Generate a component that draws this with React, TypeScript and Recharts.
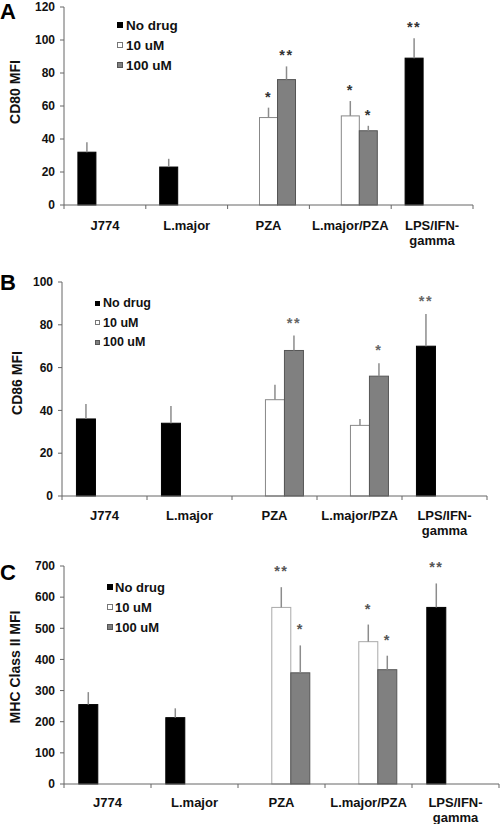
import React from 'react';
import { BarChart, Bar, XAxis, YAxis, Legend, ErrorBar, Label } from 'recharts';

const FONT = '"Liberation Sans", Arial, Helvetica, sans-serif';

type Num = number | null;

const categories = ['J774', 'L.major', 'PZA', 'L.major/PZA', 'LPS/IFN-gamma'];
const seriesNames = ['No drug', '10 uM', '100 uM'];
const KEYS = ['none', 'ten', 'hundred'];
const FILLS = ['#000000', '#ffffff', '#808080'];

// A - CD80
const cd80NoDrug: Num[] = [32, 23, null, null, 89];
const cd80NoDrugErr: Num[] = [6, 5, null, null, 12];
const cd80Ten: Num[] = [null, null, 53, 54, null];
const cd80TenErr: Num[] = [null, null, 6, 9, null];
const cd80Hundred: Num[] = [null, null, 76, 45, null];
const cd80HundredErr: Num[] = [null, null, 8, 3, null];
const cd80NoDrugStars = ['', '', '', '', '**'];
const cd80TenStars = ['', '', '*', '*', ''];
const cd80HundredStars = ['', '', '**', '*', ''];
const cd80Ticks = [0, 20, 40, 60, 80, 100, 120];

// B - CD86
const cd86NoDrug: Num[] = [36, 34, null, null, 70];
const cd86NoDrugErr: Num[] = [7, 8, null, null, 15];
const cd86Ten: Num[] = [null, null, 45, 33, null];
const cd86TenErr: Num[] = [null, null, 7, 3, null];
const cd86Hundred: Num[] = [null, null, 68, 56, null];
const cd86HundredErr: Num[] = [null, null, 7, 6, null];
const cd86NoDrugStars = ['', '', '', '', '**'];
const cd86TenStars = ['', '', '', '', ''];
const cd86HundredStars = ['', '', '**', '*', ''];
const cd86Ticks = [0, 20, 40, 60, 80, 100];

// C - MHC class II
const mhcNoDrug: Num[] = [255, 213, null, null, 567];
const mhcNoDrugErr: Num[] = [40, 30, null, null, 77];
const mhcTen: Num[] = [null, null, 567, 457, null];
const mhcTenErr: Num[] = [null, null, 65, 55, null];
const mhcHundred: Num[] = [null, null, 357, 367, null];
const mhcHundredErr: Num[] = [null, null, 88, 45, null];
const mhcNoDrugStars = ['', '', '', '', '**'];
const mhcTenStars = ['', '', '**', '*', ''];
const mhcHundredStars = ['', '', '*', '*', ''];
const mhcTicks = [0, 100, 200, 300, 400, 500, 600, 700];

const buildRows = (vals: Num[][], errs: Num[][], stars: string[][]) =>
  categories.map((name, i) => {
    const row: any = { name };
    KEYS.forEach((k, s) => {
      const e = errs[s][i];
      row[k] = vals[s][i];
      row[k + 'Err'] = e == null ? null : [0, e];
      row[k + 'Star'] = stars[s][i];
    });
    return row;
  });

const cd80Rows = buildRows(
  [cd80NoDrug, cd80Ten, cd80Hundred],
  [cd80NoDrugErr, cd80TenErr, cd80HundredErr],
  [cd80NoDrugStars, cd80TenStars, cd80HundredStars]
);
const cd86Rows = buildRows(
  [cd86NoDrug, cd86Ten, cd86Hundred],
  [cd86NoDrugErr, cd86TenErr, cd86HundredErr],
  [cd86NoDrugStars, cd86TenStars, cd86HundredStars]
);
const mhcRows = buildRows(
  [mhcNoDrug, mhcTen, mhcHundred],
  [mhcNoDrugErr, mhcTenErr, mhcHundredErr],
  [mhcNoDrugStars, mhcTenStars, mhcHundredStars]
);

// bar with its significance stars sitting above the error bar
const makeShape = (key: string, starColor: string, starLift: number) => (p: any) => {
  const row = p.payload;
  const v = row ? row[key] : null;
  if (v == null || !p.height) return <g />;
  const err = row[key + 'Err'];
  const star = row[key + 'Star'];
  const unit = p.height / v;
  const top = p.y - (err ? err[1] : 0) * unit;
  return (
    <g>
      <rect x={p.x} y={p.y} width={p.width} height={p.height} fill={p.fill} stroke={p.stroke} strokeWidth={1} />
      {star ? (
        <text x={p.x + p.width / 2} y={top - starLift} textAnchor="middle" fontFamily={FONT} fontWeight="bold" fontSize={14.5} letterSpacing={1.5} fill={starColor}>
          {star}
        </text>
      ) : null}
    </g>
  );
};

const CatTick = (p: any) => {
  const { x, y, payload, index, half, base, gap } = p;
  const lines = String(payload.value).replace('-', '-\n').split('\n');
  return (
    <g>
      <line x1={x - half} x2={x - half} y1={y} y2={y + 4} stroke="#666" />
      {index === categories.length - 1 && <line x1={x + half} x2={x + half} y1={y} y2={y + 4} stroke="#666" />}
      <text x={x} y={y + base} textAnchor="middle" fontFamily={FONT} fontWeight="bold" fontSize={13} fill="#111">
        {lines.map((l, i) => (
          <tspan key={i} x={x} dy={i ? gap : 0}>
            {l}
          </tspan>
        ))}
      </text>
    </g>
  );
};

const LegendBox = ({ font, row, square, gap }: any) => (
  <div style={{ fontFamily: FONT, fontWeight: 'bold', fontSize: font, color: '#111' }}>
    {seriesNames.map((n, i) => (
      <div key={n} style={{ display: 'flex', alignItems: 'center', height: row, whiteSpace: 'nowrap' }}>
        <span
          style={{
            display: 'inline-block',
            width: square,
            height: square,
            background: FILLS[i],
            border: `1px solid ${i === 1 ? '#777' : i === 2 ? '#555' : '#000'}`,
            boxSizing: 'border-box',
            marginRight: gap,
          }}
        />
        {n}
      </div>
    ))}
  </div>
);

const Panel = (props: any) => {
  const { letter, letterTop, title, titleX, titleDy, rows, ticks, top, height, axisWidth, right, plotTop, xAxisHeight, legend, labelBase, labelGap, starColor, starLift, tenStroke } = props;
  const band = (500 - axisWidth - right) / categories.length;
  const strokes = ['#000000', tenStroke, '#555555'];
  return (
    <div style={{ position: 'absolute', left: 0, top, width: 500, height }}>
      <BarChart width={500} height={height} data={rows} margin={{ top: plotTop, right, left: 0, bottom: 0 }} barCategoryGap="17%" barGap={0}>
        <XAxis
          dataKey="name"
          height={xAxisHeight}
          interval={0}
          tickLine={false}
          tickSize={0}
          tickMargin={0}
          stroke="#666"
          tick={(p: any) => <CatTick {...p} half={band / 2} base={labelBase} gap={labelGap} />}
        />
        <YAxis
          width={axisWidth}
          domain={[0, ticks[ticks.length - 1]]}
          ticks={ticks}
          interval={0}
          tickSize={4}
          tickMargin={5}
          stroke="#666"
          tick={{ fill: '#111', fontSize: 12, fontWeight: 'bold', fontFamily: FONT }}
        >
          <Label
            content={(lp: any) => {
              const vb = lp.viewBox || { x: 0, y: plotTop, height: 200 };
              const cx = (vb.x || 0) + titleX;
              const cy = vb.y + vb.height / 2 + titleDy;
              return (
                <text x={cx} y={cy} transform={`rotate(-90 ${cx} ${cy})`} textAnchor="middle" dominantBaseline="central" fontFamily={FONT} fontWeight="bold" fontSize={14} fill="#111">
                  {title}
                </text>
              );
            }}
          />
        </YAxis>
        <Legend
          layout="vertical"
          align="center"
          verticalAlign="middle"
          wrapperStyle={{ left: legend.left, top: legend.top, width: 'auto', height: 'auto' }}
          content={() => <LegendBox font={legend.font} row={legend.row} square={legend.square} gap={legend.gap} />}
        />
        {KEYS.map((k, i) => (
          <Bar key={k} dataKey={k} name={seriesNames[i]} fill={FILLS[i]} stroke={strokes[i]} isAnimationActive={false} shape={makeShape(k, starColor, starLift)}>
            <ErrorBar dataKey={k + 'Err'} width={0} stroke="#8c8c8c" strokeWidth={1.5} direction="y" />
          </Bar>
        ))}
      </BarChart>
      <div style={{ position: 'absolute', left: 0, top: letterTop, fontFamily: FONT, fontWeight: 'bold', fontSize: 22, lineHeight: 1, color: '#000' }}>
        {letter}
      </div>
    </div>
  );
};

export default function App() {
  return (
    <div style={{ position: 'absolute', left: 0, top: 0, width: 500, height: 825, background: '#fff', overflow: 'hidden' }}>
      <Panel
        letter="A"
        letterTop={1}
        title="CD80 MFI"
        titleX={15}
        titleDy={-14}
        rows={cd80Rows}
        ticks={cd80Ticks}
        top={0}
        height={250}
        axisWidth={64}
        right={27}
        plotTop={7}
        xAxisHeight={45}
        legend={{ left: 117, top: 15, font: 13.5, row: 20, square: 6, gap: 3 }}
        labelBase={24.5}
        labelGap={15.5}
        starColor="#333"
        starLift={6}
        tenStroke="#888"
      />
      <Panel
        letter="B"
        letterTop={2}
        title="CD86 MFI"
        titleX={16.5}
        titleDy={-6}
        rows={cd86Rows}
        ticks={cd86Ticks}
        top={270}
        height={272}
        axisWidth={62}
        right={13}
        plotTop={12}
        xAxisHeight={46}
        legend={{ left: 95, top: 23.5, font: 12.5, row: 19.5, square: 5, gap: 3 }}
        labelBase={23.5}
        labelGap={15.5}
        starColor="#666"
        starLift={8}
        tenStroke="#888"
      />
      <Panel
        letter="C"
        letterTop={12}
        title="MHC Class II MFI"
        titleX={15}
        titleDy={-8}
        rows={mhcRows}
        ticks={mhcTicks}
        top={550}
        height={274}
        axisWidth={64}
        right={1}
        plotTop={16}
        xAxisHeight={40}
        legend={{ left: 107, top: 27, font: 13, row: 20, square: 6, gap: 2 }}
        labelBase={22.5}
        labelGap={15}
        starColor="#555"
        starLift={11}
        tenStroke="#aaa"
      />
    </div>
  );
}
